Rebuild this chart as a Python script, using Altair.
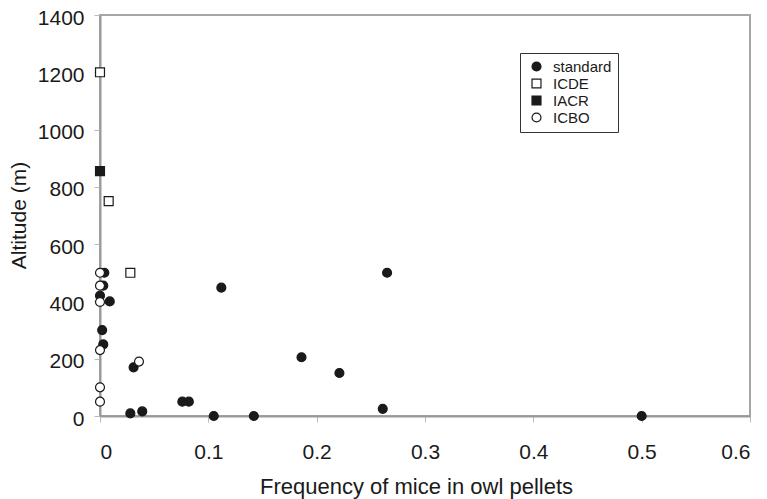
import altair as alt
import pandas as pd

# data
std_x = [0.004, 0.003, 0.0, 0.009, 0.002, 0.003, 0.031, 0.028, 0.039, 0.076, 0.082,
         0.105, 0.142, 0.112, 0.186, 0.221, 0.265, 0.261, 0.5]
std_y = [500, 455, 420, 400, 300, 250, 170, 9, 16, 50, 50,
         0, 0, 448, 205, 150, 500, 25, 0]
icde_x = [0.0, 0.008, 0.028]
icde_y = [1200, 750, 500]
iacr_x = [0.0]
iacr_y = [855]
icbo_x = [0.0, 0.0, 0.0, 0.0, 0.036, 0.0, 0.0]
icbo_y = [500, 455, 398, 230, 190, 100, 50]

series = ["standard", "ICDE", "IACR", "ICBO"]

rows = []
for name, xs, ys in [("standard", std_x, std_y), ("ICDE", icde_x, icde_y),
                     ("IACR", iacr_x, iacr_y), ("ICBO", icbo_x, icbo_y)]:
    for a, b in zip(xs, ys):
        rows.append({"freq": a, "alt": b, "series": name})
df = pd.DataFrame(rows)

FONT = "Liberation Sans"

def leg():
    return alt.Legend(title=None, orient="none", legendX=420, legendY=38,
                      strokeColor="#333333", padding=6, fillColor="white",
                      labelFontSize=15, labelFont=FONT, labelColor="#1a1a1a",
                      symbolSize=80, symbolStrokeWidth=1.2, rowPadding=1,
                      symbolOffset=3, labelOffset=9)

chart = alt.Chart(df).mark_point(size=80, strokeWidth=1.2, opacity=1).encode(
    x=alt.X("freq:Q", scale=alt.Scale(domain=[0, 0.6], nice=False, zero=True),
            axis=alt.Axis(values=[0, 0.1, 0.2, 0.3, 0.4, 0.5, 0.6],
                          labelExpr="datum.value == 0 ? '0' : format(datum.value, '.1f')",
                          title="Frequency of mice in owl pellets", grid=False,
                          tickSize=6, labelPadding=19, titleFontSize=22,
                          titleX=316, titleY=77, titleBaseline="alphabetic")),
    y=alt.Y("alt:Q", scale=alt.Scale(domain=[0, 1400], nice=False),
            axis=alt.Axis(values=list(range(0, 1401, 200)), format="d",
                          title="Altitude (m)", grid=False,
                          tickSize=6, labelPadding=10, labelOffset=3,
                          titleX=-75, titleY=200, titleAngle=-90, titleBaseline="alphabetic")),
    shape=alt.Shape("series:N", scale=alt.Scale(domain=series, range=["circle", "square", "square", "circle"]),
                    legend=leg()),
    fill=alt.Fill("series:N", scale=alt.Scale(domain=series, range=["#1a1a1a", "white", "#1a1a1a", "white"]),
                  legend=leg()),
    stroke=alt.Stroke("series:N", scale=alt.Scale(domain=series, range=["#1a1a1a", "#1a1a1a", "#1a1a1a", "#1a1a1a"]),
                      legend=leg()),
).properties(
    width=650, height=401,
    autosize=alt.AutoSizeParams(type="none"),
    padding={"left": 92, "top": 7, "right": 9, "bottom": 83},
).configure_view(
    stroke="#a6a6a6", strokeWidth=2
).configure_axis(
    domainColor="#999999", domainWidth=2, tickColor="#bbbbbb", tickWidth=1,
    labelFont=FONT, labelFontSize=21, labelColor="#1a1a1a",
    titleFont=FONT, titleFontSize=21, titleFontWeight="normal", titleColor="#1a1a1a"
)

chart.save("out.html", embed_options={"renderer": "svg", "actions": False})
